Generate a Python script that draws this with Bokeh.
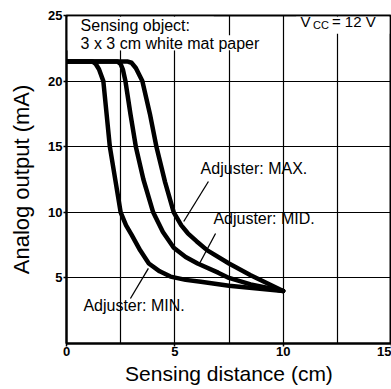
from bokeh.plotting import figure
from bokeh.models import Range1d, FixedTicker, Label, BoxAnnotation
from bokeh.embed import file_html
from bokeh.resources import INLINE

# ---- data ----
x_ticks = [0, 5, 10, 15]
y_ticks = [5, 10, 15, 20, 25]
x_grid = [2.5, 5, 7.5, 10, 12.5, 15]
y_grid = [5, 10, 15, 20]

min_x = [0, 1.2, 1.35, 1.5, 1.7, 1.85, 2.0, 2.25, 2.5, 2.75, 3.0, 3.4, 3.8, 4.3, 4.8, 5.5, 6.2, 7.5, 10]
min_y = [21.5, 21.5, 21.3, 20.9, 20.0, 17.5, 15.0, 12.5, 10.0, 9.0, 8.3, 7.1, 6.1, 5.5, 5.1, 4.85, 4.7, 4.4, 4.0]

mid_x = [0, 2.35, 2.5, 2.6, 2.72, 2.95, 3.2, 3.55, 4.0, 4.45, 4.95, 5.5, 6.05, 7.0, 7.5, 8.5, 10]
mid_y = [21.5, 21.5, 21.3, 20.9, 20.0, 17.5, 15.0, 12.5, 10.0, 8.5, 7.3, 6.6, 6.1, 5.4, 5.0, 4.5, 4.0]

max_x = [0, 2.8, 3.0, 3.2, 3.5, 3.85, 4.15, 4.55, 4.95, 5.3, 5.6, 6.0, 6.5, 7.5, 8.5, 9.0, 10]
max_y = [21.5, 21.5, 21.4, 21.0, 20.0, 17.5, 15.0, 12.3, 10.0, 9.0, 8.4, 7.8, 7.1, 6.1, 5.2, 4.8, 4.0]

FONT = "Liberation Sans"

p = figure(width=391, height=389, x_range=Range1d(0, 15), y_range=Range1d(0, 25),
           output_backend="svg", toolbar_location=None,
           min_border_left=66, min_border_right=0, min_border_top=15, min_border_bottom=46)

p.outline_line_color = "black"
p.outline_line_width = 2
p.background_fill_color = "white"
p.border_fill_color = "white"

for g, t in ((p.xgrid, x_grid), (p.ygrid, y_grid)):
    g.ticker = FixedTicker(ticks=t)
    g.grid_line_color = "black"
    g.grid_line_width = 1.2
    g.grid_line_alpha = 1.0

p.xaxis.ticker = FixedTicker(ticks=x_ticks)
p.yaxis.ticker = FixedTicker(ticks=y_ticks)
for ax in (p.xaxis[0], p.yaxis[0]):
    ax.axis_line_width = 2
    ax.axis_line_color = "black"
    ax.major_tick_out = 3
    ax.major_tick_in = 0
    ax.major_tick_line_width = 1.5
    ax.minor_tick_line_color = None
    ax.major_label_text_font = FONT
    ax.major_label_text_font_style = "bold"
    ax.major_label_text_font_size = "13px"
    ax.major_label_text_color = "black"
    ax.axis_label_text_font = FONT
    ax.axis_label_text_font_style = "normal"
    ax.axis_label_text_color = "black"

p.xaxis.axis_label = "Sensing distance (cm)"
p.xaxis.axis_label_text_font_size = "21px"
p.xaxis.major_label_standoff = 0
p.xaxis.axis_label_standoff = 3
p.yaxis.axis_label = "Analog output (mA)"
p.yaxis.axis_label_text_font_size = "22px"
p.yaxis.major_label_standoff = 1
p.yaxis.axis_label_standoff = 11

# white boxes behind the notes
p.add_layout(BoxAnnotation(left=0, right=6.8, bottom=22.35, top=24.9, fill_color="white",
                           fill_alpha=1, line_color=None, level="underlay"))
p.add_layout(BoxAnnotation(left=0, right=8.4, bottom=22.35, top=23.5, fill_color="white",
                           fill_alpha=1, line_color=None, level="underlay"))
p.add_layout(BoxAnnotation(left=10.6, right=14.9, bottom=23.6, top=24.9, fill_color="white",
                           fill_alpha=1, line_color=None, level="underlay"))

for xs, ys in ((min_x, min_y), (mid_x, mid_y), (max_x, max_y)):
    p.line(xs, ys, line_color="black", line_width=4.5, line_join="round", line_cap="round")

# leader lines
p.line([6.55, 5.41], [12.35, 9.3], line_color="black", line_width=1.3)
p.line([6.88, 6.09], [8.38, 5.95], line_color="black", line_width=1.3)
p.line([2.95, 3.78], [3.43, 5.72], line_color="black", line_width=1.3)

def note(x, y, text, size="16px"):
    p.add_layout(Label(x=x, y=y, text=text, text_font=FONT, text_font_size=size,
                       text_color="black", text_baseline="top", text_align="left"))

note(0.65, 24.85, "Sensing object:")
note(0.65, 23.48, "3 x 3 cm white mat paper")
note(6.19, 14.02, "Adjuster: MAX.")
note(6.78, 10.14, "Adjuster: MID.")
note(0.78, 3.51, "Adjuster: MIN.")
note(10.8, 25.2, "V", "15px")
note(11.38, 24.75, "CC", "11px")
note(12.25, 25.2, "= 12 V", "15px")

open("out.html", "w").write(file_html(p, INLINE))
